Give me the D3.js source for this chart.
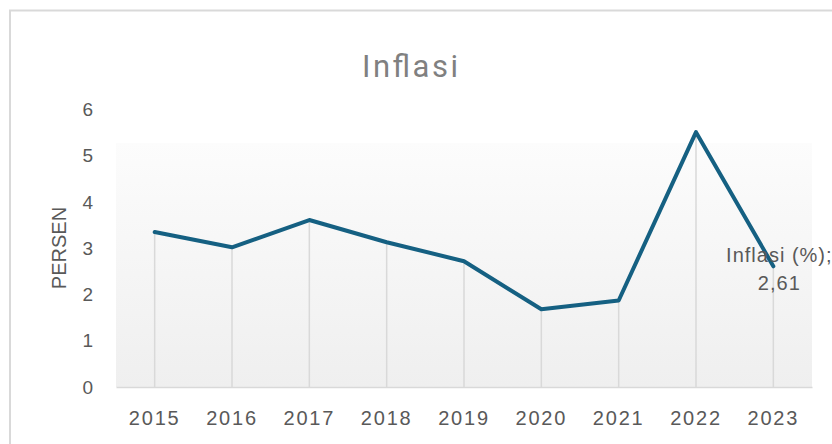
<!DOCTYPE html>
<html>
<head>
<meta charset="utf-8">
<script src="https://cdn.jsdelivr.net/npm/d3@7"></script>
<style>
  html, body { margin: 0; padding: 0; background: #ffffff; }
  svg { display: block; }
</style>
</head>
<body>
<svg id="chart" width="832" height="444"></svg>
<script>
const years = ["2015", "2016", "2017", "2018", "2019", "2020", "2021", "2022", "2023"];
const inflation = [3.35, 3.02, 3.61, 3.13, 2.72, 1.68, 1.87, 5.51, 2.61];
const yTicks = [0, 1, 2, 3, 4, 5, 6];
const titleText = "Inflasi";
const yAxisTitle = "PERSEN";
const seriesName = "Inflasi (%)";

const svg = d3.select("#chart");
const plot = { left: 116, right: 812, top: 109.5, bottom: 387, fillTop: 143 };

const x = d3.scaleBand().domain(years).range([plot.left, plot.right]).padding(0);
const y = d3.scaleLinear().domain([0, 6]).range([plot.bottom, plot.top]);
const cx = d => x(d) + x.bandwidth() / 2;

// chart border
svg.append("rect")
  .attr("x", 10).attr("y", 10.5)
  .attr("width", 900).attr("height", 500)
  .attr("fill", "#ffffff")
  .attr("stroke", "#d9d9d9").attr("stroke-width", 2);

// gradient plot fill
const defs = svg.append("defs");
const grad = defs.append("linearGradient").attr("id", "pg")
  .attr("x1", 0).attr("y1", 0).attr("x2", 0).attr("y2", 1);
grad.append("stop").attr("offset", "0%").attr("stop-color", "#fcfcfc");
grad.append("stop").attr("offset", "100%").attr("stop-color", "#efefef");
svg.append("rect")
  .attr("x", plot.left).attr("y", plot.fillTop)
  .attr("width", plot.right - plot.left).attr("height", plot.bottom - plot.fillTop)
  .attr("fill", "url(#pg)");

// title
svg.append("text")
  .attr("x", 410).attr("y", 77)
  .attr("text-anchor", "middle")
  .attr("font-family", "Roboto, Liberation Sans, Arial, sans-serif")
  .attr("font-weight", 400)
  .attr("font-size", 31)
  .attr("fill", "#808080")
  .attr("textLength", 96).attr("lengthAdjust", "spacing")
  .text(titleText);

// drop lines
svg.append("g").selectAll("line").data(years).join("line")
  .attr("x1", d => cx(d)).attr("x2", d => cx(d))
  .attr("y1", (d, i) => y(inflation[i])).attr("y2", plot.bottom)
  .attr("stroke", "#d9d9d9").attr("stroke-width", 1.5);

// x axis
const xAxis = svg.append("g").attr("transform", `translate(0,${plot.bottom})`)
  .call(d3.axisBottom(x).tickSize(0).tickPadding(0));
xAxis.select(".domain").attr("stroke", "#d9d9d9").attr("stroke-width", 1.5);
xAxis.selectAll("text")
  .attr("dy", 0).attr("y", 38)
  .attr("font-family", "Liberation Sans, Arial, sans-serif")
  .attr("font-size", 20)
  .attr("letter-spacing", "1.8px")
  .attr("fill", "#595959");

// y axis labels
const yAxis = svg.append("g").attr("transform", `translate(${plot.left},0)`)
  .call(d3.axisLeft(y).tickValues(yTicks).tickFormat(d3.format("d")).tickSize(0).tickPadding(23));
yAxis.select(".domain").remove();
yAxis.selectAll("text")
  .attr("font-family", "Liberation Sans, Arial, sans-serif")
  .attr("font-size", 19)
  .attr("fill", "#595959");

// y axis title
svg.append("text")
  .attr("transform", `translate(66,248) rotate(-90)`)
  .attr("text-anchor", "middle")
  .attr("font-family", "Liberation Sans, Arial, sans-serif")
  .attr("font-size", 20)
  .attr("fill", "#595959")
  .text(yAxisTitle);

// line
const line = d3.line().x(d => cx(d.year)).y(d => y(d.value));
const pts = years.map((yr, i) => ({ year: yr, value: inflation[i] }));
svg.append("path")
  .datum(pts)
  .attr("d", line)
  .attr("fill", "none")
  .attr("stroke", "#156082")
  .attr("stroke-width", 4)
  .attr("stroke-linejoin", "round")
  .attr("stroke-linecap", "round");

// data label for last point
const last = pts[pts.length - 1];
const fmt = v => d3.format(".2f")(v).replace(".", ",");
const lbl = svg.append("text")
  .attr("text-anchor", "middle")
  .attr("font-family", "Liberation Sans, Arial, sans-serif")
  .attr("font-size", 20)
  .attr("letter-spacing", "1px")
  .attr("fill", "#595959");
lbl.append("tspan").attr("x", cx(last.year) + 6).attr("y", y(last.value) - 4).text(seriesName + ";");
lbl.append("tspan").attr("x", cx(last.year) + 6).attr("y", y(last.value) + 24).text(fmt(last.value));
</script>
</body>
</html>
